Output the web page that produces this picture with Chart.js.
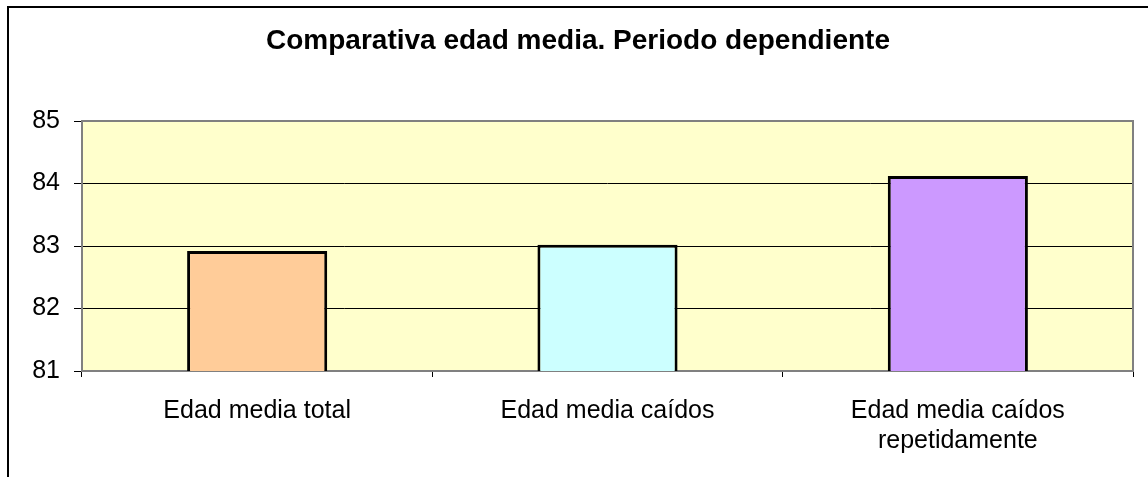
<!DOCTYPE html>
<html>
<head>
<meta charset="utf-8">
<script src="https://cdn.jsdelivr.net/npm/chart.js@4.4.1/dist/chart.umd.min.js"></script>
<style>
html,body{margin:0;padding:0;background:#fff;overflow:hidden;}
#wrap{position:relative;width:1148px;height:477px;}
#frame{position:absolute;left:7px;top:6px;width:1160px;height:520px;border:2px solid #000;box-sizing:border-box;}
#chart{position:absolute;left:0;top:0;}
</style>
</head>
<body>
<div id="wrap">
  <div id="frame"></div>
  <canvas id="chart" width="1148" height="477"></canvas>
</div>
<script>
const titleText = 'Comparativa edad media. Periodo dependiente';
const categories = [['Edad media total'], ['Edad media caídos'], ['Edad media caídos', 'repetidamente']];
const values = [82.92, 83.02, 84.12];
const barColors = ['#FFCC99', '#CCFFFF', '#CC99FF'];
const yTicks = [81, 82, 83, 84, 85];

const fontFam = '"Liberation Sans", Arial, sans-serif';

// plot background + gray frame + title centred on the outer frame
const plotArea = {
  id: 'plotArea',
  beforeDraw(chart){
    const {ctx, chartArea:a} = chart;
    ctx.save();
    ctx.fillStyle = '#FFFFCC';
    ctx.fillRect(a.left, a.top, a.right-a.left, a.bottom-a.top);
    ctx.restore();
  },
  beforeDatasetsDraw(chart){
    const {ctx, chartArea:a} = chart;
    ctx.save();
    ctx.strokeStyle = '#808080';
    ctx.lineWidth = 2;
    ctx.strokeRect(a.left, a.top, a.right-a.left, a.bottom-a.top);
    ctx.restore();
  },
  afterDraw(chart){
    const ctx = chart.ctx;
    ctx.save();
    ctx.fillStyle = '#000';
    ctx.font = 'bold 28px ' + fontFam;
    ctx.textAlign = 'center';
    ctx.textBaseline = 'middle';
    ctx.fillText(titleText, 578, 41);
    ctx.restore();
  }
};

new Chart(document.getElementById('chart'), {
  type: 'bar',
  data: {
    labels: categories,
    datasets: [{
      data: values,
      backgroundColor: barColors,
      borderColor: '#000',
      borderWidth: 3,
      borderSkipped: false,
      barPercentage: 0.4,
      categoryPercentage: 1
    }]
  },
  options: {
    responsive: false,
    animation: false,
    devicePixelRatio: 1,
    layout: {padding: {left: 0, right: 15, top: 121, bottom: 0}},
    plugins: {
      legend: {display: false},
      tooltip: {enabled: false},
      title: {display: false}
    },
    scales: {
      x: {
        grid: {offset: true, drawOnChartArea: false, drawTicks: true, tickLength: 6, tickColor: '#000'},
        border: {display: false},
        ticks: {color: '#000', padding: 19, maxRotation: 0, autoSkip: false,
          font: {family: fontFam, size: 25, lineHeight: 1.2}},
        afterFit(s){ s.height = 106; }
      },
      y: {
        min: 81, max: 85,
        afterBuildTicks(s){ s.ticks = yTicks.map(v => ({value: v})); },
        grid: {color: '#000', lineWidth: 1, drawTicks: true, tickLength: 8, tickColor: '#000'},
        border: {display: false},
        ticks: {color: '#000', padding: 14, font: {family: fontFam, size: 25}},
        afterFit(s){ s.width = 82; }
      }
    }
  },
  plugins: [plotArea]
});
</script>
</body>
</html>
